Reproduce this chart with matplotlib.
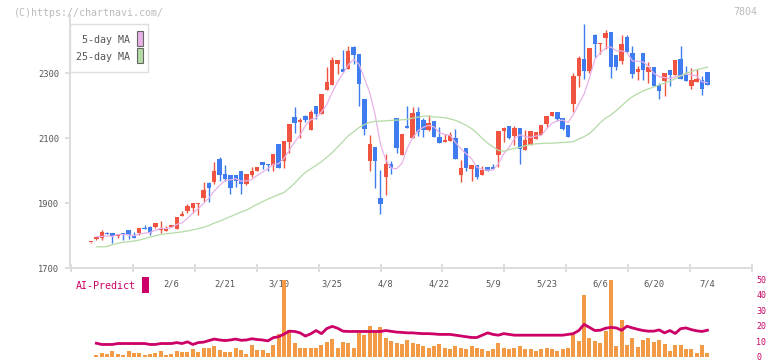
import numpy as np
import matplotlib
matplotlib.use("Agg")
import matplotlib.pyplot as plt
from matplotlib.patches import Rectangle

# ---------------- data ----------------
opens = [1780, 1791, 1794, 1810, 1808, 1798, 1808, 1818, 1803, 1810,
         1825, 1827, 1828, 1818, 1816, 1828, 1822, 1862, 1877, 1884,
         1898, 1917, 1961, 1966, 2036, 1989, 1987, 1987, 1999, 1960,
         1988, 1999, 2027, 2021, 2019, 2083, 2031, 2090, 2166, 2149,
         2169, 2127, 2199, 2175, 2250, 2265, 2330, 2313, 2313, 2380,
         2359, 2221, 2030, 2073, 1916, 1982, 2021, 2162, 2050, 2138,
         2102, 2181, 2156, 2124, 2153, 2104, 2090, 2092, 2102, 1988,
         2070, 2007, 2018, 1988, 2012, 2012, 2050, 2122, 2138, 2108,
         2132, 2064, 2079, 2098, 2110, 2144, 2169, 2181, 2162, 2141,
         2206, 2292, 2344, 2307, 2418, 2390, 2409, 2427, 2356, 2338,
         2412, 2362, 2304, 2362, 2304, 2319, 2264, 2276, 2310, 2295,
         2344, 2295, 2261, 2273, 2279, 2304]
highs = [1781, 1800, 1818, 1811, 1808, 1806, 1808, 1818, 1811, 1824,
         1833, 1830, 1839, 1846, 1830, 1833, 1858, 1876, 1898, 1900,
         1900, 1966, 1966, 2027, 2043, 2018, 1987, 1987, 1999, 1989,
         2011, 2011, 2027, 2021, 2052, 2083, 2092, 2144, 2197, 2162,
         2172, 2187, 2199, 2236, 2320, 2350, 2341, 2372, 2385, 2385,
         2359, 2221, 2110, 2073, 2002, 2052, 2031, 2162, 2113, 2199,
         2196, 2196, 2161, 2172, 2153, 2135, 2113, 2118, 2129, 2033,
         2070, 2018, 2018, 2015, 2012, 2022, 2122, 2136, 2138, 2138,
         2132, 2125, 2122, 2119, 2141, 2169, 2181, 2181, 2162, 2141,
         2301, 2353, 2452, 2378, 2421, 2393, 2433, 2427, 2356, 2418,
         2418, 2384, 2322, 2362, 2335, 2319, 2270, 2301, 2310, 2341,
         2384, 2322, 2316, 2313, 2292, 2304]
lows = [1779, 1788, 1788, 1806, 1778, 1794, 1788, 1791, 1794, 1802,
        1820, 1802, 1825, 1810, 1815, 1828, 1822, 1862, 1871, 1871,
        1864, 1904, 1904, 1960, 1970, 1970, 1930, 1951, 1930, 1956,
        1980, 2000, 2007, 2000, 2000, 2010, 2010, 2054, 2115, 2102,
        2149, 2127, 2159, 2175, 2250, 2265, 2299, 2305, 2313, 2329,
        2200, 2111, 1999, 1946, 1868, 1927, 1989, 2056, 2050, 2133,
        2102, 2108, 2105, 2124, 2105, 2087, 2090, 2092, 2037, 1966,
        2000, 1970, 1975, 1988, 2000, 2006, 2011, 2090, 2098, 2079,
        2022, 2064, 2079, 2098, 2110, 2135, 2169, 2153, 2126, 2104,
        2181, 2258, 2283, 2301, 2350, 2360, 2375, 2286, 2310, 2329,
        2366, 2286, 2279, 2279, 2270, 2261, 2221, 2230, 2261, 2295,
        2282, 2276, 2252, 2273, 2233, 2264]
closes = [1780, 1797, 1811, 1806, 1798, 1806, 1801, 1803, 1794, 1824,
          1820, 1810, 1839, 1821, 1822, 1833, 1858, 1867, 1892, 1900,
          1900, 1941, 1948, 1999, 1987, 1976, 1948, 1970, 1960, 1989,
          1999, 2011, 2019, 2019, 2052, 2010, 2092, 2144, 2148, 2156,
          2155, 2181, 2176, 2236, 2273, 2341, 2341, 2305, 2369, 2357,
          2267, 2129, 2083, 2031, 1899, 2021, 2010, 2070, 2113, 2133,
          2178, 2120, 2124, 2147, 2105, 2087, 2095, 2111, 2037, 2008,
          2009, 2018, 1982, 2002, 2000, 2006, 2122, 2132, 2101, 2132,
          2067, 2095, 2122, 2119, 2141, 2169, 2181, 2160, 2129, 2104,
          2292, 2347, 2307, 2378, 2390, 2393, 2424, 2319, 2319, 2390,
          2366, 2298, 2313, 2310, 2319, 2261, 2246, 2301, 2295, 2341,
          2282, 2276, 2279, 2282, 2252, 2264]

ma5 = [np.nan, 1797, 1798, 1800, 1798, 1804, 1804, 1803, 1800, 1806,
       1808, 1810, 1817, 1823, 1822, 1825, 1835, 1840, 1854, 1870,
       1883, 1900, 1916, 1938, 1955, 1970, 1972, 1976, 1968, 1969,
       1973, 1986, 1996, 2007, 2020, 2022, 2038, 2063, 2089, 2110,
       2139, 2157, 2163, 2181, 2204, 2241, 2273, 2299, 2326, 2343,
       2328, 2285, 2241, 2173, 2082, 2033, 2009, 2006, 2023, 2069,
       2101, 2123, 2134, 2140, 2135, 2117, 2112, 2109, 2087, 2068,
       2052, 2037, 2011, 2004, 2002, 2002, 2022, 2052, 2072, 2099,
       2111, 2105, 2103, 2107, 2109, 2129, 2146, 2154, 2156, 2149,
       2173, 2206, 2236, 2286, 2343, 2363, 2378, 2381, 2369, 2369,
       2364, 2338, 2337, 2335, 2321, 2300, 2290, 2287, 2284, 2289,
       2293, 2299, 2295, 2292, 2274, 2271]
ma25 = [np.nan, 1766, 1766, 1767, 1773, 1777, 1780, 1782, 1784, 1787,
        1791, 1796, 1800, 1804, 1806, 1808, 1810, 1812, 1815, 1818,
        1822, 1826, 1832, 1839, 1845, 1852, 1859, 1866, 1873, 1879,
        1888, 1897, 1905, 1913, 1920, 1927, 1933, 1947, 1962, 1980,
        1995, 2006, 2017, 2028, 2042, 2056, 2073, 2090, 2108, 2120,
        2133, 2142, 2149, 2152, 2153, 2154, 2155, 2156, 2157, 2158,
        2162, 2165, 2168, 2168, 2166, 2165, 2163, 2160, 2155, 2148,
        2140, 2130, 2116, 2100, 2085, 2074, 2063, 2060, 2065, 2069,
        2072, 2077, 2081, 2083, 2084, 2085, 2085, 2086, 2087, 2088,
        2090, 2098, 2105, 2115, 2130, 2148, 2162, 2172, 2185, 2200,
        2215, 2228, 2237, 2246, 2252, 2258, 2264, 2270, 2276, 2283,
        2292, 2300, 2305, 2311, 2315, 2319]

volume = [np.nan, 1.2, 2.5, 2.0, 4.0, 2.0, 1.5, 4.0, 2.5, 2.5,
          1.3, 2.0, 2.5, 4.0, 1.3, 2.0, 4.0, 3.3, 3.3, 5.0,
          3.3, 5.5, 5.5, 7.0, 4.5, 3.3, 3.3, 5.5, 4.5, 2.0,
          7.5, 4.5, 4.5, 2.5, 7.5, 14.5, 60.0, 17.5, 8.7, 5.5,
          6.0, 6.0, 6.0, 7.5, 9.3, 11.8, 5.5, 9.8, 8.7, 5.5,
          15.5, 14.0, 20.0, 17.0, 19.0, 12.0, 10.0, 9.0, 8.0, 11.0,
          9.0, 8.0, 7.0, 6.0, 7.0, 8.0, 6.0, 5.0, 7.0, 6.0,
          5.0, 7.0, 6.0, 5.0, 4.0, 5.0, 9.0, 6.0, 5.0, 6.0,
          7.0, 5.0, 5.0, 4.0, 5.0, 6.0, 5.0, 4.0, 5.0, 6.0,
          14.0, 10.0, 40.0, 12.0, 10.0, 8.8, 17.0, 60.0, 6.9, 23.9,
          7.6, 12.0, 6.3, 10.7, 12.0, 9.4, 10.7, 8.2, 3.8, 7.6,
          7.6, 5.0, 5.0, 2.5, 7.6, 2.5]
ai_predict = [np.nan, 8.8, 8.0, 8.0, 8.0, 8.6, 8.6, 8.6, 8.6, 8.6,
              8.6, 8.0, 8.0, 8.6, 8.6, 8.6, 9.2, 8.6, 9.7, 8.0,
              9.2, 9.5, 10.5, 11.5, 10.9, 10.5, 10.9, 11.5, 10.7, 10.9,
              11.7, 11.2, 10.9, 10.3, 12.4, 13.0, 14.7, 16.6, 16.4, 15.5,
              13.4, 14.9, 17.0, 15.0, 18.3, 19.7, 18.5, 16.6, 16.4, 16.4,
              16.4, 16.4, 16.4, 16.4, 16.4, 17.0, 16.5, 16.0, 15.8, 15.5,
              15.5, 15.2, 15.0, 15.0, 14.8, 14.5, 14.5, 14.5, 14.0, 13.5,
              13.0, 12.5, 12.5, 14.0, 15.5, 14.5, 14.0, 15.0, 14.5, 14.0,
              14.0, 14.0, 14.0, 14.0, 14.0, 14.0, 14.0, 14.0, 14.0, 14.5,
              15.0, 17.0, 21.0, 19.0, 17.0, 17.2, 18.5, 19.0, 18.7, 17.2,
              19.8, 18.7, 17.8, 17.0, 16.6, 16.6, 17.4, 15.5, 17.0, 15.1,
              18.2, 18.7, 17.6, 16.8, 16.4, 17.2]

date_idx = [15, 25, 35, 45, 55, 65, 75, 85, 95, 105, 115]
date_labels = ["2/6", "2/21", "3/10", "3/25", "4/8", "4/22", "5/9",
               "5/23", "6/6", "6/20", "7/4"]
price_ticks = [1700, 1900, 2100, 2300]
ai_ticks = [0, 10, 20, 30, 40, 50]

# ---------------- style ----------------
W, H = 772, 361
MONO = "DejaVu Sans Mono"
RED = "#f0533f"
BLUE = "#3f7cf0"
PINK = "#e8b2e8"
GREEN = "#b4dba6"
ORANGE = "#f29a45"
CRIMSON = "#cc0066"
GRID = "#dddddd"

plt.rcParams["font.family"] = [MONO]

fig = plt.figure(figsize=(W / 100, H / 100), dpi=100)


def fbox(x0, y0_top, x1, y1_top):
    return [x0 / W, 1 - y1_top / H, (x1 - x0) / W, (y1_top - y0_top) / H]


px_per_idx = 5.36
x0_px = 91.0
xl = ((70 - x0_px) / px_per_idx, (752 - x0_px) / px_per_idx)

# ---------------- main panel ----------------
ax = fig.add_axes(fbox(70, 15, 752, 268.3))
ax.set_xlim(*xl)
ax.set_ylim(1700, 1700 + 253.3 / 0.325)

n = len(closes)
idx = np.arange(n)
o = np.array(opens, float)
c = np.array(closes, float)
h = np.array(highs, float)
l = np.array(lows, float)
up = c >= o
cols = np.where(up, RED, BLUE)
body_bot = np.minimum(o, c)
body_h = np.maximum(np.abs(c - o), 2.5)

ax.vlines(idx, l, h, colors=cols, linewidth=1.0, zorder=2)
ax.bar(idx, body_h, bottom=body_bot, width=0.82, color=cols, linewidth=0, zorder=3)

ax.plot(idx, ma5, color=PINK, linewidth=0.9, zorder=4)
ax.plot(idx, ma25, color=GREEN, linewidth=0.9, zorder=4)

for s in ["top", "right"]:
    ax.spines[s].set_visible(False)
ax.spines["left"].set_color(GRID)
ax.spines["left"].set_linewidth(1.4)
ax.spines["bottom"].set_color(GRID)
ax.spines["bottom"].set_linewidth(1.4)

ax.set_yticks(price_ticks)
ax.set_yticklabels([str(t) for t in price_ticks])
ax.tick_params(axis="y", direction="out", length=3.8, width=1.4, color=GRID,
               labelsize=6.3, labelcolor="#555555", pad=4)

ax.set_xticks(date_idx)
ax.set_xticklabels(date_labels)
ax.tick_params(axis="x", which="major", length=0, pad=8.2, labelsize=6.3,
               labelcolor="#555555")
ax.set_xticks(np.linspace(xl[0] + 0.2, xl[1], 12), minor=True)
ax.tick_params(axis="x", which="minor", direction="inout", length=6,
               width=1.4, color=GRID)

# ---------------- AI-Predict panel ----------------
ax2 = fig.add_axes(fbox(70, 279.5, 752, 359))
ax2.set_xlim(*xl)
ax2.set_ylim(-1.4, 50)
ax2.bar(idx, volume, width=0.75, color=ORANGE, linewidth=0, zorder=2)
ax2.plot(idx, ai_predict, color=CRIMSON, linewidth=2.0, zorder=3,
         solid_joinstyle="round")
for s in ax2.spines.values():
    s.set_visible(False)
ax2.set_xticks([])
ax2.yaxis.tick_right()
ax2.set_yticks(ai_ticks)
ax2.set_yticklabels([str(t) for t in ai_ticks])
ax2.tick_params(axis="y", length=0, pad=3, labelsize=6.0, labelcolor=CRIMSON)
ax2.patch.set_alpha(0)

# ---------------- texts / legend ----------------
fig.text(14 / W, 1 - 12.5 / H, "(C)https://chartnavi.com/", fontsize=7.2,
         color="#bbbbbb", ha="left", va="center")
fig.text(757 / W, 1 - 12 / H, "7804", fontsize=7.2, color="#bbbbbb",
         ha="right", va="center")

fig.text(76 / W, 1 - 286 / H, "AI-Predict", fontsize=7.2, color=CRIMSON,
         ha="left", va="center")
fig.add_artist(Rectangle((142 / W, 1 - 293 / H), 7 / W, 16 / H,
                         transform=fig.transFigure, facecolor=CRIMSON,
                         edgecolor="none"))

fig.add_artist(Rectangle((70 / W, 1 - 72 / H), 78 / W, 48 / H,
                         transform=fig.transFigure, facecolor="white",
                         edgecolor=GRID, linewidth=1.0, zorder=5))
fig.text(130 / W, 1 - 40 / H, "5-day MA", fontsize=7.2, color="#555555",
         ha="right", va="center", zorder=6)
fig.text(130 / W, 1 - 57 / H, "25-day MA", fontsize=7.2, color="#555555",
         ha="right", va="center", zorder=6)
fig.add_artist(Rectangle((137 / W, 1 - 46 / H), 6 / W, 15 / H,
                         transform=fig.transFigure, facecolor=PINK,
                         edgecolor="#666666", linewidth=0.8, zorder=6))
fig.add_artist(Rectangle((137 / W, 1 - 63 / H), 6 / W, 15 / H,
                         transform=fig.transFigure, facecolor=GREEN,
                         edgecolor="#666666", linewidth=0.8, zorder=6))

fig.savefig("out.png", dpi=100)
